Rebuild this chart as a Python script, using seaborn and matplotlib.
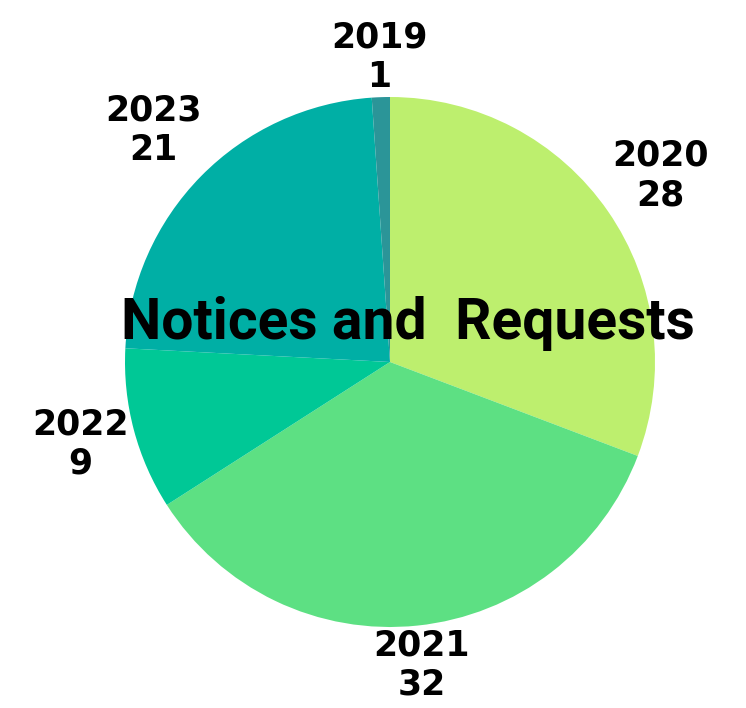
import numpy as np
import matplotlib.pyplot as plt
import seaborn as sns

# -------------------------
# DATA
# -------------------------
years = ["2020", "2021", "2022", "2023", "2019"]
counts = [28, 32, 9, 21, 1]
colors = ["#BDEF6E", "#5DE083", "#00C896", "#00AFA5", "#2B9598"]
label_dist = [1.24, 1.15, 1.21, 1.25, 1.15]
title = "Notices and  Requests"

sns.set_theme(style="white")
plt.rcParams["font.family"] = ["DejaVu Sans"]

fig = plt.figure(figsize=(7.46, 7.08), dpi=100)
ax = fig.add_axes([125 / 746, 81 / 708, 530 / 746, 530 / 708])

wedges, texts = ax.pie(
    counts,
    labels=[f"{y}\n{c}" for y, c in zip(years, counts)],
    colors=colors,
    startangle=90,
    counterclock=False,
    labeldistance=1.2,
    wedgeprops=dict(linewidth=0),
    textprops=dict(fontsize=25, fontweight="bold", color="black"),
)

# place the labels around the pie, centred on each wedge's mid-angle
for w, t, d in zip(wedges, texts, label_dist):
    ang = np.deg2rad((w.theta1 + w.theta2) / 2)
    t.set_position((d * np.cos(ang), d * np.sin(ang)))
    t.set_ha("center")
    t.set_va("center")
    t.set_multialignment("center")
    t.set_linespacing(1.2)

ax.set_xlim(-1, 1)
ax.set_ylim(-1, 1)
ax.set_aspect("equal")
ax.axis("off")

fig.text(408 / 746, 1 - 323 / 708, title, ha="center", va="center",
         fontsize=41, fontweight="bold", color="black",
         family=["Roboto", "DejaVu Sans"])

fig.savefig("out.png", dpi=100, facecolor="white")
